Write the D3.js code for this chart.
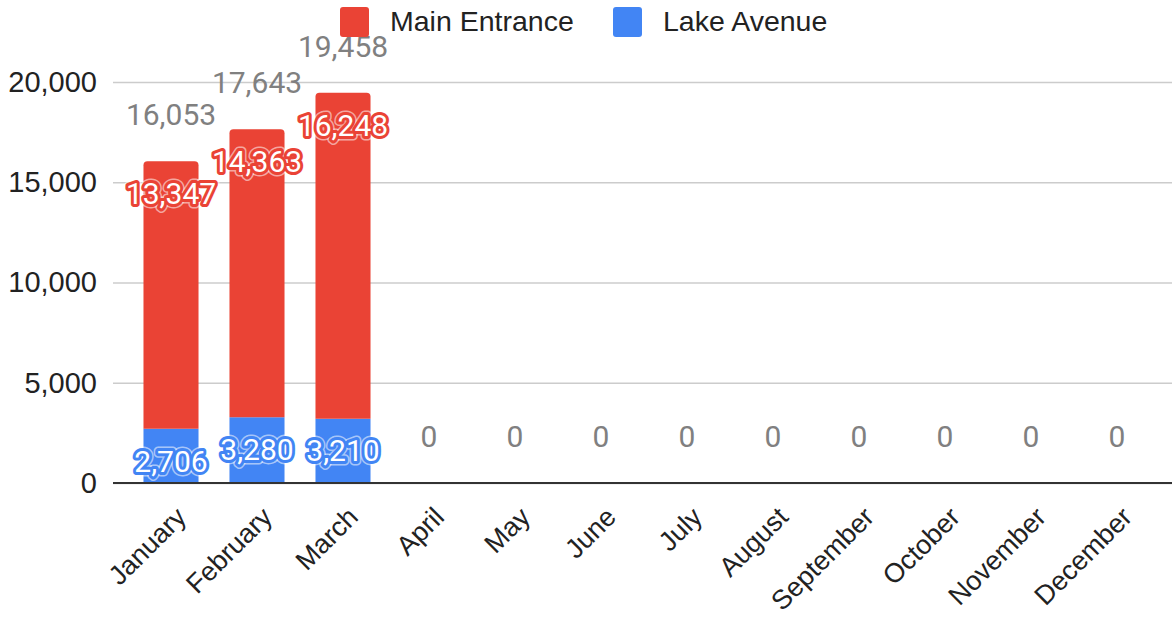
<!DOCTYPE html>
<html>
<head>
<meta charset="utf-8">
<script src="https://cdn.jsdelivr.net/npm/d3@7"></script>
<style>
  html, body { margin: 0; padding: 0; background: #fff; }
  svg { display: block; }
</style>
</head>
<body>
<svg id="chart" width="1172" height="621"></svg>
<script>
// Monthly visitor counts per entrance
const months = ["January", "February", "March", "April", "May", "June",
  "July", "August", "September", "October", "November", "December"];
const mainEntrance = [13347, 14363, 16248, 0, 0, 0, 0, 0, 0, 0, 0, 0];
const lakeAvenue = [2706, 3280, 3210, 0, 0, 0, 0, 0, 0, 0, 0, 0];
const yTicks = [0, 5000, 10000, 15000, 20000];

const seriesNames = ["Lake Avenue", "Main Entrance"];
const colors = { "Main Entrance": "#EA4335", "Lake Avenue": "#4285F4" };
const legendOrder = ["Main Entrance", "Lake Avenue"];

const rows = months.map((m, i) => ({
  month: m,
  "Main Entrance": mainEntrance[i],
  "Lake Avenue": lakeAvenue[i]
}));
const totals = rows.map(r => r["Main Entrance"] + r["Lake Avenue"]);

const svg = d3.select("#chart");
const axisFont = "'Liberation Sans', Arial, sans-serif";
const labelFont = "Roboto, 'Liberation Sans', sans-serif";
const fmt = d3.format(",");

const plotLeft = 113, plotRight = 1172;
const x = d3.scaleBand().domain(months).range([128, 1160])
  .paddingInner(0.36).paddingOuter(0.18);
const y = d3.scaleLinear().domain([0, 20000]).range([483, 82]);

// Gridlines and y labels
const yAxis = d3.axisLeft(y).tickValues(yTicks).tickFormat(fmt)
  .tickSize(-(plotRight - plotLeft)).tickPadding(16);
const gy = svg.append("g").attr("transform", `translate(${plotLeft},0)`).call(yAxis);
gy.select(".domain").remove();
gy.selectAll(".tick line").attr("stroke", "#cccccc").attr("stroke-width", 1.5);
gy.selectAll(".tick text")
  .attr("font-family", axisFont).attr("font-size", 29).attr("fill", "#222");

// Stacked bars
const stack = d3.stack().keys(seriesNames)(rows);
const bw = x.bandwidth();
const r = 4;

function roundedTop(x0, y0, w, h) {
  const rr = Math.min(r, h);
  return `M${x0},${y0 + h}V${y0 + rr}Q${x0},${y0} ${x0 + rr},${y0}` +
    `H${x0 + w - rr}Q${x0 + w},${y0} ${x0 + w},${y0 + rr}V${y0 + h}Z`;
}

stack.forEach((layer, li) => {
  const key = layer.key;
  const isTop = li === stack.length - 1;
  svg.append("g").selectAll("path")
    .data(layer.filter(d => d[1] > d[0]))
    .join("path")
    .attr("fill", colors[key])
    .attr("d", d => {
      const x0 = x(d.data.month), y0 = y(d[1]), h = y(d[0]) - y(d[1]);
      return isTop ? roundedTop(x0, y0, bw, h) : `M${x0},${y0}h${bw}v${h}h${-bw}Z`;
    });
});

// Baseline
svg.append("line")
  .attr("x1", plotLeft).attr("x2", plotRight)
  .attr("y1", y(0)).attr("y2", y(0))
  .attr("stroke", "#333").attr("stroke-width", 2);

// Segment value labels: white text with coloured halo
stack.forEach(layer => {
  const key = layer.key;
  const g = svg.append("g")
    .attr("font-family", labelFont).attr("font-size", 30)
    .attr("text-anchor", "middle");
  const data = layer.filter(d => d[1] > d[0]);
  const pos = d => [x(d.data.month) + bw / 2, y(d[1]) + 32];
  g.selectAll("text.halo").data(data).join("text")
    .attr("class", "halo")
    .attr("x", d => pos(d)[0]).attr("y", d => pos(d)[1])
    .attr("dy", "0.36em")
    .attr("fill", "none").attr("stroke", "#fff").attr("stroke-opacity", 0.55)
    .attr("stroke-width", 9).attr("stroke-linejoin", "round")
    .text(d => fmt(d[1] - d[0]));
  g.selectAll("text.val").data(data).join("text")
    .attr("class", "val")
    .attr("x", d => pos(d)[0]).attr("y", d => pos(d)[1])
    .attr("dy", "0.36em")
    .attr("fill", "#fff").attr("stroke", colors[key])
    .attr("stroke-width", 6).attr("stroke-linejoin", "round")
    .attr("paint-order", "stroke")
    .text(d => fmt(d[1] - d[0]));
});

// Total labels above each stack
svg.append("g")
  .attr("font-family", labelFont).attr("font-size", 30)
  .attr("text-anchor", "middle").attr("fill", "#808080")
  .selectAll("text").data(months).join("text")
  .attr("x", (m, i) => x(m) + bw / 2)
  .attr("y", (m, i) => y(totals[i]) - 47)
  .attr("dy", "0.36em")
  .text((m, i) => fmt(totals[i]));

// Month labels
svg.append("g")
  .attr("font-family", axisFont).attr("font-size", 27).attr("fill", "#222")
  .selectAll("text").data(months).join("text")
  .attr("text-anchor", "end")
  .attr("transform", m => `translate(${x(m) + bw / 2 + 10},${y(0) + 29}) rotate(-45)`)
  .attr("dy", "0.35em")
  .text(m => m);

// Legend
const legend = svg.append("g").attr("font-family", axisFont).attr("font-size", 28.5).attr("fill", "#222");
const legendX = [340, 613];
legendOrder.forEach((name, i) => {
  legend.append("rect")
    .attr("x", legendX[i]).attr("y", 7).attr("width", 29).attr("height", 30)
    .attr("rx", 3).attr("fill", colors[name]);
  legend.append("text")
    .attr("x", legendX[i] + 50).attr("y", 21).attr("dy", "0.36em")
    .text(name);
});
</script>
</body>
</html>
